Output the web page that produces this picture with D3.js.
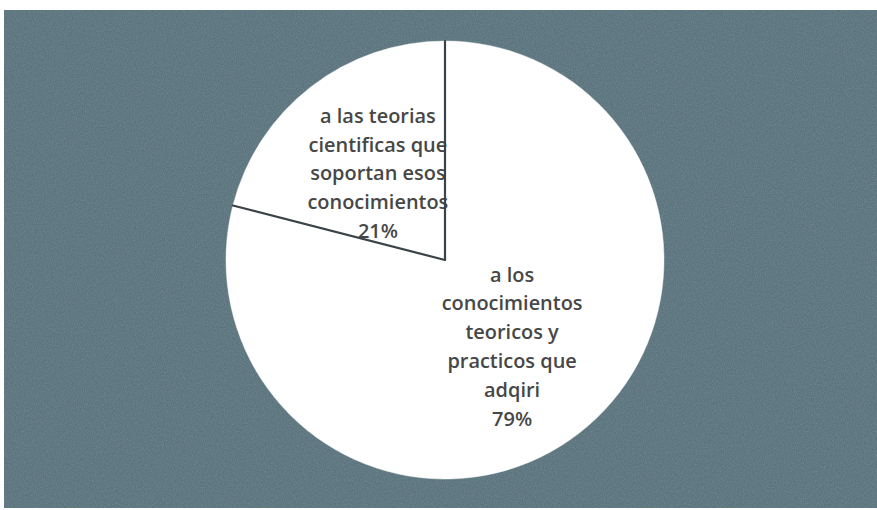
<!DOCTYPE html>
<html>
<head>
<meta charset="utf-8">
<script src="https://cdn.jsdelivr.net/npm/d3@7"></script>
<style>
  html, body { margin: 0; padding: 0; background: #ffffff; }
  svg { display: block; }
</style>
</head>
<body>
<svg id="chart" width="877" height="510"></svg>
<script>
// ---- data ----
const categories = [
  "a los conocimientos teoricos y practicos que adqiri",
  "a las teorias cientificas que soportan esos conocimientos"
];
const values = [79, 21];
const labelLines = [
  ["a los", "conocimientos", "teoricos y", "practicos que", "adqiri", "79%"],
  ["a las teorias", "cientificas que", "soportan esos", "conocimientos", "21%"]
];

// ---- layout ----
const W = 877, H = 510;
const svg = d3.select("#chart");
const cx = 445, cy = 260, R = 219;
const fontFamily = "'Open Sans', 'Liberation Sans', sans-serif";

// texture filter for background
const defs = svg.append("defs");
const f = defs.append("filter").attr("id", "grain").attr("x", 0).attr("y", 0).attr("width", "100%").attr("height", "100%");
f.append("feTurbulence").attr("type", "fractalNoise").attr("baseFrequency", "0.9 0.7").attr("numOctaves", 2).attr("seed", 3).attr("result", "n");
f.append("feColorMatrix").attr("in", "n").attr("type", "matrix")
  .attr("values", "0 0 0 0 0.26  0 0 0 0 0.34  0 0 0 0 0.38  0 0 0 1.2 -0.35");
f.append("feComposite").attr("in2", "SourceGraphic").attr("operator", "in");

svg.append("rect").attr("x", 4).attr("y", 10).attr("width", W - 4).attr("height", H - 12)
  .attr("fill", "#5a737c");
svg.append("rect").attr("x", 4).attr("y", 10).attr("width", W - 4).attr("height", H - 12)
  .attr("fill", "#5a737c").attr("filter", "url(#grain)").attr("opacity", 0.6);

const g = svg.append("g").attr("transform", `translate(${cx},${cy})`);

const pie = d3.pie().sort(null).value(d => d);
const arcs = pie(values);
const arc = d3.arc().innerRadius(0).outerRadius(R);
const labelArc = d3.arc().innerRadius(R * 0.5).outerRadius(R * 0.5);

// slices
g.selectAll("path.slice").data(arcs).join("path")
  .attr("class", "slice")
  .attr("d", arc)
  .attr("fill", "#ffffff")
  .attr("stroke", "#fdfdfd")
  .attr("stroke-width", 0.5);

// font size so that "conocimientos" is ~141px wide
const ctx = document.createElement("canvas").getContext("2d");
ctx.font = `600 100px ${fontFamily}`;
const fs = 100 * 141 / ctx.measureText("conocimientos").width;
const lineH = 28.8;

// labels
arcs.forEach((a, i) => {
  const [lx, ly] = labelArc.centroid(a);
  const lines = labelLines[i];
  const n = lines.length;
  const t = g.append("text")
    .attr("text-anchor", "middle")
    .attr("font-family", fontFamily)
    .attr("font-size", fs.toFixed(2))
    .attr("fill", "#474747")
    .attr("font-weight", 600);
  lines.forEach((ln, k) => {
    t.append("tspan")
      .attr("x", lx)
      .attr("y", ly + (k - (n - 1) / 2) * lineH)
      .attr("dy", "0.35em")
      .text(ln);
  });
});

// radial slice separators on top
g.selectAll("line.sep").data(arcs).join("line")
  .attr("class", "sep")
  .attr("x1", 0).attr("y1", 0)
  .attr("x2", d => d3.pointRadial(d.startAngle, R)[0])
  .attr("y2", d => d3.pointRadial(d.startAngle, R)[1])
  .attr("stroke", "#3a4448")
  .attr("stroke-width", 2.2)
  .attr("stroke-linecap", "round");
</script>
</body>
</html>
